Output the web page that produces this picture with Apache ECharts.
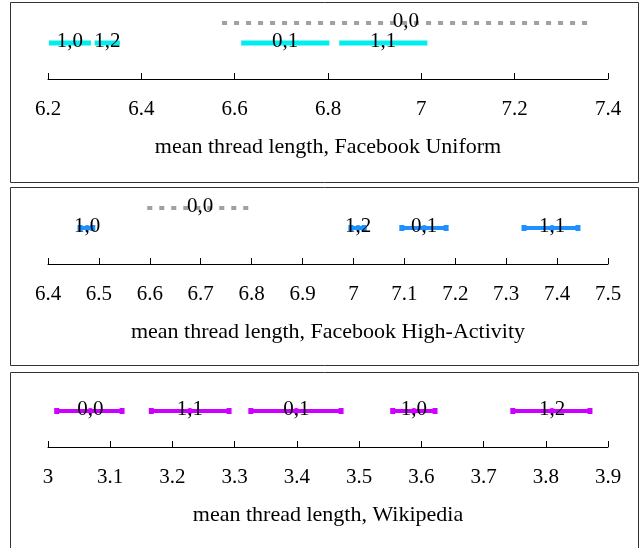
<!DOCTYPE html>
<html><head><meta charset="utf-8">
<script src="https://cdn.jsdelivr.net/npm/echarts@6/dist/echarts.min.js"></script>
<style>html,body{margin:0;padding:0;background:#fff}#c{width:642px;height:548px}</style>
</head><body><div id="c"></div><script>
// ---- Panel 1: Facebook Uniform ----
const fbUniformTicks = [6.2, 6.4, 6.6, 6.8, 7.0, 7.2, 7.4];
const fbUniformLabels = ['1,0', '1,2', '0,1', '1,1'];
const fbUniformLow  = [6.202, 6.300, 6.614, 6.824];
const fbUniformMean = [6.247, 6.327, 6.708, 6.918];
const fbUniformHigh = [6.292, 6.354, 6.803, 7.013];
const fbUniformBaseLabels = ['0,0'];
const fbUniformBaseLow  = [6.573];
const fbUniformBaseMean = [6.967];
const fbUniformBaseHigh = [7.361];

// ---- Panel 2: Facebook High-Activity ----
const fbHighTicks = [6.4, 6.5, 6.6, 6.7, 6.8, 6.9, 7.0, 7.1, 7.2, 7.3, 7.4, 7.5];
const fbHighLabels = ['1,0', '1,2', '0,1', '1,1'];
const fbHighLow  = [6.463, 6.995, 7.095, 7.335];
const fbHighMean = [6.477, 7.009, 7.139, 7.390];
const fbHighHigh = [6.488, 7.021, 7.182, 7.441];
const fbHighBaseLabels = ['0,0'];
const fbHighBaseLow  = [6.595];
const fbHighBaseMean = [6.699];
const fbHighBaseHigh = [6.801];

// ---- Panel 3: Wikipedia ----
const wikiTicks = [3.0, 3.1, 3.2, 3.3, 3.4, 3.5, 3.6, 3.7, 3.8, 3.9];
const wikiLabels = ['0,0', '1,1', '0,1', '1,0', '1,2'];
const wikiLow  = [3.014, 3.166, 3.326, 3.554, 3.747];
const wikiMean = [3.068, 3.228, 3.399, 3.588, 3.810];
const wikiHigh = [3.119, 3.291, 3.471, 3.622, 3.871];

const panelTitles = ['mean thread length, Facebook Uniform',
                     'mean thread length, Facebook High-Activity',
                     'mean thread length, Wikipedia'];

const FONT = '"Liberation Serif", "Times New Roman", serif';
const FS_TICK = 21, FS_TITLE = 22, FS_LABEL = 21;
const MAIN_ROW = 1.8, BASE_ROW = 2.8;

function rows(labels, low, mean, high, row) {
  return labels.map((l, i) => [low[i], high[i], mean[i], row, l]);
}

function intervalSeries(idx, data, cfg) {
  return {
    type: 'custom', xAxisIndex: idx, yAxisIndex: idx, clip: false,
    data: data,
    renderItem: function (params, api) {
      const p0 = api.coord([api.value(0), api.value(3)]);
      const p1 = api.coord([api.value(1), api.value(3)]);
      const pm = api.coord([api.value(2), api.value(3)]);
      const label = data[params.dataIndex][4];
      const children = [];
      children.push({
        type: 'line',
        shape: { x1: p0[0], y1: p0[1], x2: p1[0], y2: p1[1] },
        style: { stroke: cfg.color, lineWidth: cfg.width, lineDash: cfg.dash || null, lineCap: 'butt' }
      });
      if (cfg.caps) {
        [p0, p1].forEach(p => children.push({
          type: 'rect', shape: { x: p[0] - 2.5, y: p[1] - 3, width: 5, height: 6 },
          style: { fill: cfg.color }
        }));
        children.push({ type: 'circle', shape: { cx: pm[0], cy: pm[1], r: 3 }, style: { fill: cfg.color } });
      }
      children.push({
        type: 'text', z2: 10,
        style: { text: label, x: pm[0], y: pm[1] - 2, align: 'center', verticalAlign: 'middle',
                 fontSize: FS_LABEL, fontFamily: FONT, fill: '#000' }
      });
      return { type: 'group', children: children };
    }
  };
}

function xAxisFor(idx, ticks) {
  const step = Math.round((ticks[1] - ticks[0]) * 1000) / 1000;
  return {
    type: 'value', gridIndex: idx, min: ticks[0], max: ticks[ticks.length - 1], interval: step,
    name: panelTitles[idx], nameLocation: 'middle', nameGap: 57,
    nameTextStyle: { fontSize: FS_TITLE, fontFamily: FONT, color: '#000' },
    axisLine: { lineStyle: { color: '#000', width: 1 } },
    axisTick: { inside: true, length: 6, lineStyle: { color: '#000' } },
    axisLabel: { fontSize: FS_TICK, fontFamily: FONT, color: '#000', margin: 20 },
    splitLine: { show: false }
  };
}
function yAxisFor(idx) {
  return { type: 'value', gridIndex: idx, min: 0, max: 3.6, show: false };
}

const chart = echarts.init(document.getElementById('c'));
chart.setOption({
  animation: false,
  backgroundColor: '#fff',
  grid: [
    { left: 48, width: 560, top: 7, height: 72 },
    { left: 48, width: 560, top: 192, height: 72 },
    { left: 48, width: 560, top: 375, height: 72 }
  ],
  xAxis: [xAxisFor(0, fbUniformTicks), xAxisFor(1, fbHighTicks), xAxisFor(2, wikiTicks)],
  yAxis: [yAxisFor(0), yAxisFor(1), yAxisFor(2)],
  graphic: [
    { type: 'rect', shape: { x: 10.5, y: 2.5, width: 628, height: 180 }, style: { fill: 'none', stroke: '#333', lineWidth: 1 } },
    { type: 'rect', shape: { x: 10.5, y: 187.5, width: 628, height: 178 }, style: { fill: 'none', stroke: '#333', lineWidth: 1 } },
    { type: 'rect', shape: { x: 10.5, y: 372.5, width: 628, height: 200 }, style: { fill: 'none', stroke: '#333', lineWidth: 1 } }
  ],
  series: [
    intervalSeries(0, rows(fbUniformBaseLabels, fbUniformBaseLow, fbUniformBaseMean, fbUniformBaseHigh, BASE_ROW),
                   { color: '#a0a0a0', width: 4, dash: [5, 7] }),
    intervalSeries(0, rows(fbUniformLabels, fbUniformLow, fbUniformMean, fbUniformHigh, MAIN_ROW),
                   { color: '#00eeee', width: 5 }),
    intervalSeries(1, rows(fbHighBaseLabels, fbHighBaseLow, fbHighBaseMean, fbHighBaseHigh, BASE_ROW),
                   { color: '#a0a0a0', width: 4, dash: [5, 7] }),
    intervalSeries(1, rows(fbHighLabels, fbHighLow, fbHighMean, fbHighHigh, MAIN_ROW),
                   { color: '#1e90ff', width: 4, caps: true }),
    intervalSeries(2, rows(wikiLabels, wikiLow, wikiMean, wikiHigh, MAIN_ROW),
                   { color: '#cc00ff', width: 4, caps: true })
  ]
});
</script></body></html>
